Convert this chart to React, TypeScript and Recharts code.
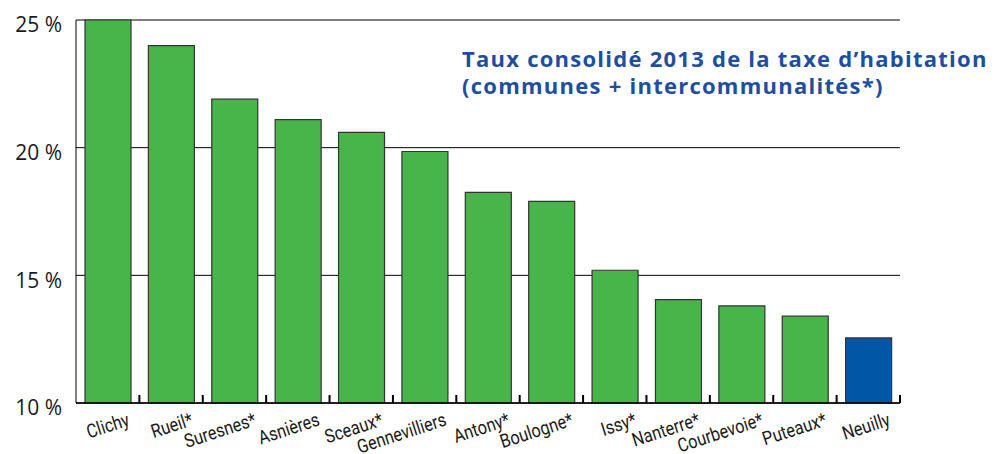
import React from 'react';
import { BarChart, Bar, XAxis, YAxis, CartesianGrid, Cell } from 'recharts';

const communes = [
  'Clichy',
  'Rueil*',
  'Suresnes*',
  'Asnières',
  'Sceaux*',
  'Gennevilliers',
  'Antony*',
  'Boulogne*',
  'Issy*',
  'Nanterre*',
  'Courbevoie*',
  'Puteaux*',
  'Neuilly',
];
const taux = [25.0, 24.0, 21.9, 21.1, 20.6, 19.85, 18.25, 17.9, 15.2, 14.05, 13.8, 13.4, 12.55];
const yTicks = [10, 15, 20, 25];
const highlighted = 'Neuilly';

const GREEN = '#48b54a';
const BLUE = '#0057a6';
const TITLE_BLUE = '#1f4e9f';

const W = 1005;
const H = 454;
const MARGIN = { top: 20, right: 105, bottom: 0, left: 6 };
const Y_WIDTH = 70;
const PLOT_W = W - MARGIN.left - MARGIN.right - Y_WIDTH;
const HALF_BAND = PLOT_W / communes.length / 2;

const data = communes.map((name, i) => ({ name, taux: taux[i] }));

const YTick = (props: any) => {
  const { x, y, payload } = props;
  return (
    <text x={x} y={y + 5} dy="0.35em" textAnchor="end" fontSize={21} fill="#1a1a1a" fontFamily="'Open Sans', sans-serif">
      {`${payload.value}\u00a0%`}
    </text>
  );
};

const XTick = (props: any) => {
  const { x, y, payload } = props;
  const bx = x + HALF_BAND; // category boundary to the right
  const tx = x + 23;
  const ty = y + 22;
  return (
    <g>
      <line x1={bx} y1={y} x2={bx} y2={y - 8} stroke="#000" strokeWidth={2} />
      <text
        x={0}
        y={0}
        textAnchor="end"
        transform={`translate(${tx}, ${ty}) rotate(-18) scale(0.86, 1)`}
        fontSize={19}
        fill="#1a1a1a"
        fontFamily="Roboto, sans-serif"
      >
        {payload.value}
      </text>
    </g>
  );
};

export default function App() {
  return (
    <div style={{ position: 'absolute', left: 0, top: 0, width: W, height: H, background: '#fff' }}>
      <BarChart width={W} height={H} data={data} margin={MARGIN} barSize={46}>
        <CartesianGrid vertical={false} stroke="#000" strokeWidth={1} />
        <XAxis
          dataKey="name"
          height={51}
          interval={0}
          tickLine={false}
          tickSize={0}
          tickMargin={0}
          axisLine={{ stroke: '#000', strokeWidth: 1.5 }}
          tick={<XTick />}
        />
        <YAxis
          width={Y_WIDTH}
          domain={[10, 25]}
          ticks={yTicks}
          tickLine={false}
          tickSize={0}
          tickMargin={14}
          axisLine={{ stroke: '#000', strokeWidth: 1 }}
          tick={<YTick />}
        />
        <Bar dataKey="taux" stroke="#333" strokeWidth={1.2} isAnimationActive={false}>
          {data.map((d) => (
            <Cell key={d.name} fill={d.name === highlighted ? BLUE : GREEN} />
          ))}
        </Bar>
      </BarChart>
      <div
        style={{
          position: 'absolute',
          left: 462,
          top: 45,
          color: TITLE_BLUE,
          fontFamily: "'Open Sans', sans-serif",
          fontWeight: 700,
          fontSize: 22,
          letterSpacing: 1.25,
          lineHeight: '27px',
          whiteSpace: 'nowrap',
        }}
      >
        Taux consolidé 2013 de la taxe d’habitation
        <br />
        (communes + intercommunalités*)
      </div>
    </div>
  );
}
